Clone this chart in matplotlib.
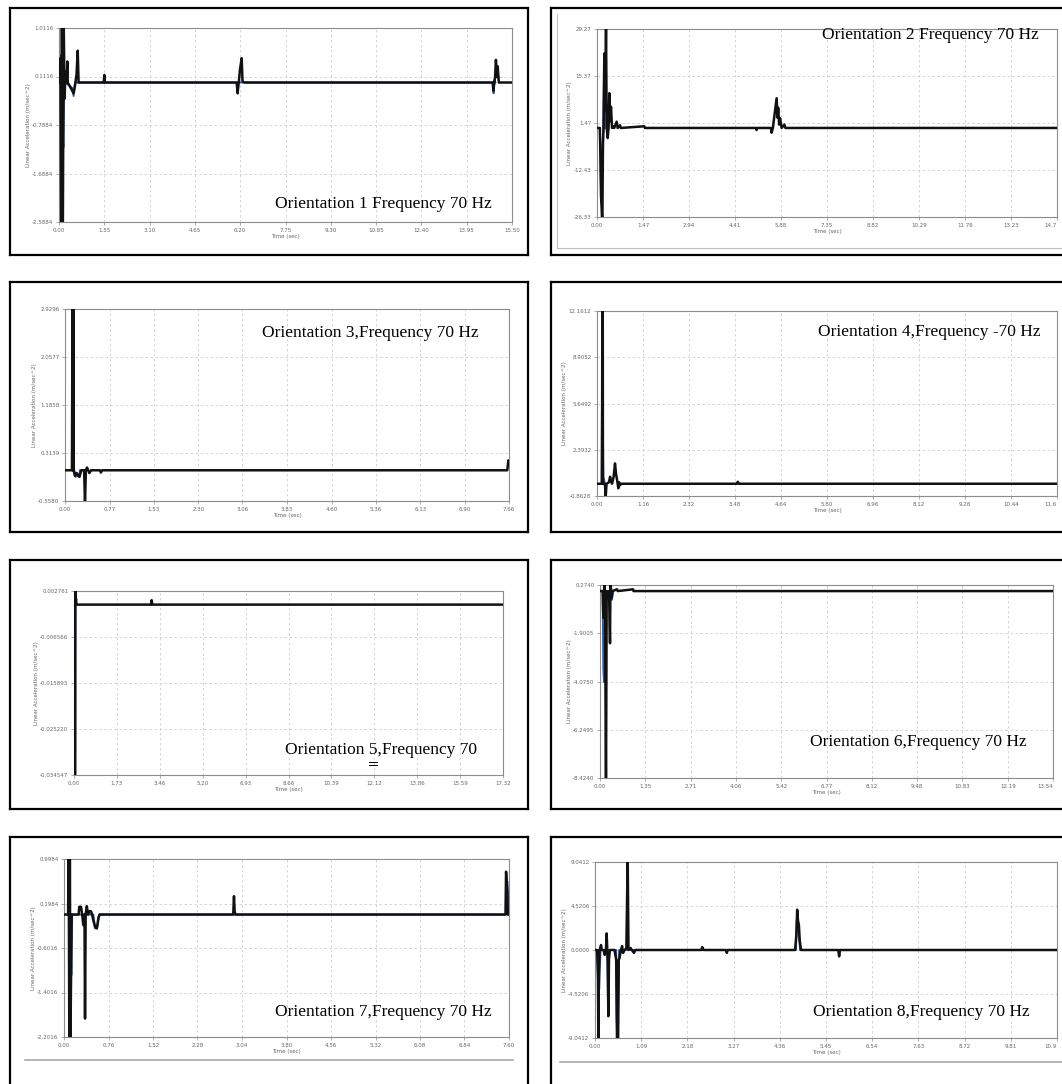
import matplotlib
matplotlib.use("Agg")
import matplotlib.pyplot as plt
from matplotlib.lines import Line2D

W, H = 1062, 1084

# ---------------- data ----------------
titles = [
    "Orientation 1 Frequency 70 Hz",
    "Orientation 2 Frequency 70 Hz",
    "Orientation 3,Frequency 70 Hz",
    "Orientation 4,Frequency -70 Hz",
    "Orientation 5,Frequency 70",
    "Orientation 6,Frequency 70 Hz",
    "Orientation 7,Frequency 70 Hz",
    "Orientation 8,Frequency 70 Hz",
]

x_labels_1 = ["0.00", "1.55", "3.10", "4.65", "6.20", "7.75", "9.30", "10.85", "12.40", "13.95", "15.50"]
x_labels_2 = ["0.00", "1.47", "2.94", "4.41", "5.88", "7.35", "8.82", "10.29", "11.76", "13.23", "14.7"]
x_labels_3 = ["0.00", "0.77", "1.53", "2.30", "3.06", "3.83", "4.60", "5.36", "6.13", "6.90", "7.66"]
x_labels_4 = ["0.00", "1.16", "2.32", "3.48", "4.64", "5.80", "6.96", "8.12", "9.28", "10.44", "11.6"]
x_labels_5 = ["0.00", "1.73", "3.46", "5.20", "6.93", "8.66", "10.39", "12.12", "13.86", "15.59", "17.32"]
x_labels_6 = ["0.00", "1.35", "2.71", "4.06", "5.42", "6.77", "8.12", "9.48", "10.83", "12.19", "13.54"]
x_labels_7 = ["0.00", "0.76", "1.52", "2.28", "3.04", "3.80", "4.56", "5.32", "6.08", "6.84", "7.60"]
x_labels_8 = ["0.00", "1.09", "2.18", "3.27", "4.36", "5.45", "6.54", "7.63", "8.72", "9.81", "10.9"]

y_labels_1 = ["-2.5884", "-1.6884", "-0.7884", "0.1116", "1.0116"]
y_labels_2 = ["-26.33", "-12.43", "1.47", "15.37", "29.27"]
y_labels_3 = ["-0.5580", "0.3139", "1.1858", "2.0577", "2.9296"]
y_labels_4 = ["-0.8628", "2.3932", "5.6492", "8.9052", "12.1612"]
y_labels_5 = ["-0.034547", "-0.025220", "-0.015893", "-0.006566", "0.002761"]
y_labels_6 = ["-8.4240", "-6.2495", "-4.0750", "-1.9005", "0.2740"]
y_labels_7 = ["-2.2016", "-1.4016", "-0.6016", "0.1984", "0.9984"]
y_labels_8 = ["-9.0412", "-4.5206", "0.0000", "4.5206", "9.0412"]

# main (black) traces
t1 = [0, 0.03, 0.05, 0.08, 0.10, 0.13, 0.16, 0.19, 0.22, 0.26, 0.285, 0.30, 0.45, 0.50, 0.55, 0.60, 0.64, 0.67, 0.72,
      1.53, 1.55, 1.57, 6.08, 6.11, 6.16, 6.19, 6.25, 6.28, 6.35, 14.84, 14.86, 14.92, 14.95, 14.99, 15.01, 15.05, 15.5]
a1 = [0, 0, 0.45, -3.0, 1.2, -3.0, 1.2, -0.3, 0.2, 0, 0.39, 0, -0.15, -0.2, -0.05, 0.15, 0.59, 0, 0,
      0, 0.14, 0, 0, -0.2, 0.05, 0.23, 0.45, 0.02, 0, 0, -0.15, 0.1, 0.42, 0.1, 0.3, 0, 0]
t2 = [0, 0.09, 0.11, 0.128, 0.15, 0.17, 0.19, 0.21, 0.234, 0.26, 0.288, 0.31, 0.341, 0.37, 0.394, 0.42, 0.447, 0.48,
      0.522, 0.55, 0.628, 0.66, 0.735, 0.76, 1.51, 1.53, 5.09, 5.10, 5.12, 5.56, 5.58, 5.62, 5.74, 5.77, 5.79, 5.82,
      5.85, 5.90, 5.99, 6.02, 14.7]
a2 = [0, 0, -8, -20, -24, -30, -5, 0, 22, 5, 31, 0, -3, 0, 10.3, 2, 6.3, 0,
      0.5, 0, 1.85, 0, 0.8, 0, 0.5, 0, 0, -0.6, 0, 0, -1.4, 0, 8.8, 3, 6, 1,
      2.9, 0, 1, 0, 0]
t3 = [0, 0.12, 0.13, 0.14, 0.145, 0.15, 0.17, 0.20, 0.25, 0.28, 0.33, 0.345, 0.36, 0.38, 0.40, 0.42, 0.45, 0.60,
      0.62, 0.64, 7.63, 7.65, 7.66]
a3 = [0, 0, 3.2, 0, 3.2, 0, -0.1, -0.05, -0.12, 0, 0, -0.6, 0, 0.05, 0, -0.05, 0, 0,
      -0.04, 0, 0, 0.18, 0.15]
t4 = [0, 0.12, 0.13, 0.135, 0.145, 0.15, 0.20, 0.219, 0.24, 0.30, 0.33, 0.35, 0.38, 0.42, 0.454, 0.48, 0.51, 0.538,
      0.56, 0.58, 0.62, 3.53, 3.55, 3.58, 11.6]
a4 = [0, 0, 5.6, 12.5, 12.5, 0, 0, -0.95, 0, 0.1, 0.49, 0.2, 0, 0.5, 1.43, 0.7, 0.2, -0.32,
      0.1, -0.1, 0, 0, 0.14, 0, 0]
t5 = [0, 0.02, 0.03, 0.04, 0.05, 0.06, 0.08, 0.10, 3.11, 3.136, 3.16, 17.32]
a5 = [0, 0, 0.0035, -0.04, 0.0035, 0, 0.0012, 0, 0, 0.0009, 0, 0]
t6 = [0, 0.08, 0.10, 0.13, 0.15, 0.179, 0.20, 0.24, 0.27, 0.299, 0.31, 0.32, 0.34, 0.37, 0.51, 0.53, 0.99, 1.0, 13.54]
a6 = [0, 0, -1.2, 0.35, -0.5, -9.0, 0, -0.2, 0, -2.35, 0, 0.35, -0.3, 0, 0.08, 0, 0.08, 0, 0]
t7 = [0, 0.07, 0.08, 0.091, 0.10, 0.11, 0.13, 0.25, 0.26, 0.29, 0.31, 0.33, 0.35, 0.359, 0.37, 0.39, 0.41, 0.43,
      0.46, 0.48, 0.50, 0.53, 0.56, 0.59, 0.61, 2.89, 2.903, 2.915, 2.93, 7.54, 7.55, 7.57, 7.58, 7.6]
a7 = [0, 0, 1.1, -2.3, 1.1, -2.3, 0, 0, 0.14, 0.14, 0, -0.19, 0, -1.87, 0, 0.15, 0, 0.06,
      0.06, 0, -0.1, -0.22, -0.25, -0.05, 0, 0, 0.33, 0.05, 0, 0, 0.77, 0.4, 0, 0]
t8 = [0, 0.05, 0.07, 0.079, 0.09, 0.11, 0.142, 0.16, 0.20, 0.23, 0.26, 0.275, 0.29, 0.30, 0.315, 0.33, 0.35, 0.46,
      0.50, 0.52, 0.545, 0.56, 0.58, 0.60, 0.62, 0.64, 0.66, 0.70, 0.74, 0.771, 0.79, 0.84, 0.87, 0.92, 0.95,
      2.51, 2.53, 2.56, 3.09, 3.11, 3.13, 4.72, 4.75, 4.77, 4.79, 4.81, 4.83, 4.86, 5.74, 5.76, 5.78, 10.9]
a8 = [0, 0, -3, -9.5, -2, 0, 0.51, 0, 0, -0.5, 0.2, 1.7, 0, -1, -6.8, -1, 0, 0,
      -1, -9.5, -9.5, -1, -0.82, -0.2, 0.1, 0.4, -0.3, 0, 0.2, 9.5, 0, 0.2, 0, -0.3, 0,
      0, 0.3, 0, 0, -0.3, 0, 0, 1.5, 4.14, 3.0, 2.6, 1.0, 0, 0, -0.66, 0, 0]

# secondary (blue) traces
bt1 = [0.02, 0.04, 0.06, 0.09, 0.12, 0.15, 0.18, 0.21, 0.45, 0.50, 0.55, 14.84, 14.87, 14.90, 14.93]
ba1 = [0, 0.5, -0.4, -1.6, -0.8, -1.2, -0.1, 0, -0.1, -0.25, 0, 0, -0.2, 0.05, 0]
bt2 = [0.09, 0.12, 0.14, 0.16, 0.18, 0.20, 0.234, 0.25]
ba2 = [0, -15, -22, -18, -4, 0, 22, 0]
bt3 = [0.16, 0.18, 0.21, 0.24, 0.26]
ba3 = [0, -0.12, -0.10, -0.11, 0]
bt4 = [0.13, 0.14, 0.16, 0.20]
ba4 = [0, 5.7, 0.5, 0]
bt5 = [0.02, 0.035, 0.045, 0.055, 0.065]
ba5 = [0, -0.025, -0.03, -0.01, 0]
bt6 = [0.08, 0.10, 0.12, 0.14, 0.16, 0.20, 0.33, 0.35, 0.38, 0.40]
ba6 = [0, -3.5, -4.1, -2.5, -1.0, 0, 0, -0.4, -0.2, 0]
bt7 = [0.07, 0.08, 0.09, 0.11, 0.125, 0.14, 0.50, 0.53, 0.57, 0.60, 7.55, 7.57, 7.59, 7.60]
ba7 = [0, 0.53, 0, 0, -1.09, 0, 0, -0.25, -0.22, 0, 0, 0.6, 0.3, 0]
bt8 = [0.07, 0.10, 0.13, 0.29, 0.30, 0.31, 0.33, 0.50, 0.51, 0.53, 0.55, 0.57, 4.74, 4.76, 4.80, 4.84]
ba8 = [0, -4, 0, 0, -3, -6.5, 0, 0, -7, -9.5, -5, 0, 0, 3, 2, 0]

panels = [
    (t1, a1, bt1, ba1, x_labels_1, y_labels_1),
    (t2, a2, bt2, ba2, x_labels_2, y_labels_2),
    (t3, a3, bt3, ba3, x_labels_3, y_labels_3),
    (t4, a4, bt4, ba4, x_labels_4, y_labels_4),
    (t5, a5, bt5, ba5, x_labels_5, y_labels_5),
    (t6, a6, bt6, ba6, x_labels_6, y_labels_6),
    (t7, a7, bt7, ba7, x_labels_7, y_labels_7),
    (t8, a8, bt8, ba8, x_labels_8, y_labels_8),
]

# ---------------- layout (pixels) ----------------
axes_px = [  # left, top, right, bottom
    (59, 28, 512, 222),
    (597, 29, 1057, 217),
    (65, 309, 509, 501),
    (597, 311, 1057, 496),
    (74, 591, 503, 775),
    (600, 585, 1053, 778),
    (64, 859, 509, 1037),
    (595, 862, 1057, 1038),
]
title_px = [(275, 204), (822, 35), (262, 333), (818, 332),
            (285, 750), (810, 742), (275, 1012), (813, 1012)]

fig = plt.figure(figsize=(W / 100, H / 100), dpi=100)
fig.patch.set_facecolor("white")


def fx(x):
    return x / W


def fy(y):
    return 1 - y / H


def fig_line(x0, y0, x1, y1, color="black", lw=1.6):
    fig.add_artist(Line2D([fx(x0), fx(x1)], [fy(y0), fy(y1)], transform=fig.transFigure,
                          color=color, lw=lw, solid_capstyle="projecting"))


# outer black frames
rows = [(8, 255), (282, 532), (560, 809), (837, 1090)]
for i, (top, bot) in enumerate(rows):
    fig_line(10, top, 528, top)
    fig_line(10, top, 10, bot)
    fig_line(528, top, 528, bot)
    if i < 3:
        fig_line(10, bot, 528, bot)
    fig_line(551, top, 1070, top)
    fig_line(551, top, 551, bot)
    if i < 3:
        fig_line(551, bot, 1070, bot)

# faint chart-area borders
fig_line(557, 14, 557, 248, color="#bdbdbd", lw=0.8)
fig_line(557, 248, 1062, 248, color="#bdbdbd", lw=0.8)
fig_line(25, 1060, 513, 1060, color="#a8a8a8", lw=1.2)
fig_line(560, 1062, 1062, 1062, color="#a8a8a8", lw=1.2)

for k, ((t, a, bt, ba, xl, yl), (l, tp, r, b)) in enumerate(zip(panels, axes_px)):
    ax = fig.add_axes([fx(l), fy(b), fx(r - l), (b - tp) / H])
    xt = [float(s) for s in xl]
    yt = [float(s) for s in yl]
    ax.plot(bt, ba, color="#2f57a8", lw=1.4, zorder=2)
    ax.plot(t, a, color="#111111", lw=1.8, zorder=3)
    ax.set_xlim(xt[0], xt[-1])
    ax.set_ylim(yt[0], yt[-1])
    ax.set_xticks(xt)
    ax.set_xticklabels(xl)
    ax.set_yticks(yt)
    ax.set_yticklabels(yl)
    ax.grid(True, color="#cfcfcf", lw=0.6, linestyle=(0, (3, 3)))
    ax.set_axisbelow(True)
    for s in ax.spines.values():
        s.set_color("#8c8c8c")
        s.set_linewidth(0.8)
    ax.tick_params(length=2, width=0.5, colors="#8c8c8c", labelsize=4, labelcolor="#666666", pad=2)
    if r > 1050:
        ax.get_xticklabels()[-1].set_horizontalalignment("right")
    ax.set_xlabel("Time (sec)", fontsize=4, color="#666666", labelpad=1)
    ax.set_ylabel("Linear Acceleration (m/sec^2)", fontsize=4, color="#666666", labelpad=1)
    tx, ty = title_px[k]
    fig.text(fx(tx), fy(ty), titles[k], family="Liberation Serif", fontsize=12.5,
             ha="left", va="center", color="black")

# small double underline under "5," in panel 5's note
fig_line(369, 762, 377, 762, color="black", lw=0.7)
fig_line(369, 764.5, 377, 764.5, color="black", lw=0.7)

fig.savefig("out.png", dpi=100, facecolor="white")
